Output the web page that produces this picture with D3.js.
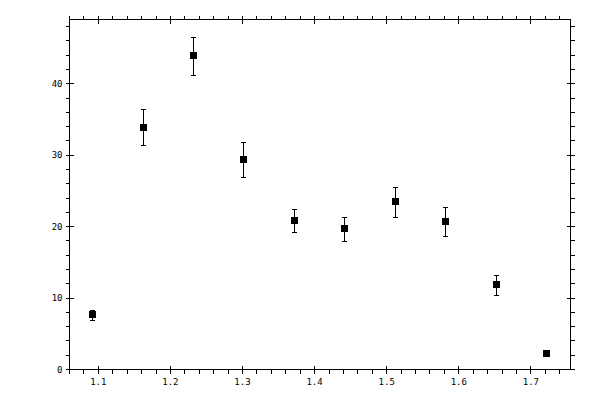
<!DOCTYPE html>
<html>
<head>
<meta charset="utf-8">
<script src="https://cdn.jsdelivr.net/npm/d3@7"></script>
<style>
  body { margin: 0; background: #fff; }
  text { font-family: "DejaVu Sans Mono", monospace; font-size: 9px; fill: #000; }
</style>
</head>
<body>
<div id="chart"></div>
<script>
const width = 600, height = 400;

// data
const xValues = [1.092, 1.162, 1.232, 1.302, 1.372, 1.442, 1.512, 1.582, 1.652, 1.722];
const yValues = [7.7, 33.9, 43.9, 29.4, 20.8, 19.7, 23.5, 20.7, 11.9, 2.3];
const yErrors = [0.7, 2.5, 2.7, 2.4, 1.6, 1.7, 2.1, 2.0, 1.4, 0.4];
const xTicks = [1.1, 1.2, 1.3, 1.4, 1.5, 1.6, 1.7];
const yTicks = [0, 10, 20, 30, 40];
const xMinorTicks = d3.range(1.06, 1.751, 0.02);
const yMinorTicks = d3.range(0, 49, 2);

const xScale = d3.scaleLinear().domain([1.06, 1.755]).range([69.5, 570.5]);
const yScale = d3.scaleLinear().domain([0, 49]).range([369.5, 19.5]);

const svg = d3.select("#chart")
  .append("svg")
    .attr("width", width)
    .attr("height", height);

const frame = svg.append("g")
  .attr("shape-rendering", "crispEdges")
  .attr("stroke", "#000")
  .attr("stroke-width", 1);

// box
frame.append("rect")
  .attr("x", xScale.range()[0])
  .attr("y", yScale.range()[1])
  .attr("width", xScale.range()[1] - xScale.range()[0])
  .attr("height", yScale.range()[0] - yScale.range()[1])
  .attr("fill", "none");

const x0 = xScale.range()[0], x1 = xScale.range()[1];
const yb = yScale.range()[0], yt = yScale.range()[1];

// minor ticks point outward, majors cross the frame
const rx = d => Math.round(xScale(d) - 0.5) + 0.5;
const ry = d => Math.round(yScale(d) - 0.5) + 0.5;

const minorX = xMinorTicks.filter(v => !xTicks.some(t => Math.abs(t - v) < 1e-6));
frame.selectAll("line.xminor-b").data(minorX).join("line")
  .attr("x1", rx).attr("x2", rx)
  .attr("y1", yb).attr("y2", yb + 4);
frame.selectAll("line.xminor-t").data(minorX).join("line")
  .attr("x1", rx).attr("x2", rx)
  .attr("y1", yt).attr("y2", yt - 4);
frame.selectAll("line.xmajor").data(xTicks).join("line")
  .attr("x1", rx).attr("x2", rx)
  .attr("y1", yb - 4).attr("y2", yb + 4);
frame.selectAll("line.xmajor-t").data(xTicks).join("line")
  .attr("x1", rx).attr("x2", rx)
  .attr("y1", yt - 4).attr("y2", yt + 4);

const minorY = yMinorTicks.filter(v => !yTicks.includes(v));
frame.selectAll("line.yminor-l").data(minorY).join("line")
  .attr("x1", x0 - 4).attr("x2", x0).attr("y1", ry).attr("y2", ry);
frame.selectAll("line.yminor-r").data(minorY).join("line")
  .attr("x1", x1).attr("x2", x1 + 4).attr("y1", ry).attr("y2", ry);
frame.selectAll("line.ymajor-l").data(yTicks).join("line")
  .attr("x1", x0 - 4).attr("x2", x0 + 4).attr("y1", ry).attr("y2", ry);
frame.selectAll("line.ymajor-r").data(yTicks).join("line")
  .attr("x1", x1 - 4).attr("x2", x1 + 4).attr("y1", ry).attr("y2", ry);

// tick labels
svg.selectAll("text.xlabel").data(xTicks).join("text")
  .attr("class", "xlabel")
  .attr("x", d => xScale(d))
  .attr("y", yb + 15)
  .attr("text-anchor", "middle")
  .text(d => d3.format(".1f")(d));

svg.selectAll("text.ylabel").data(yTicks).join("text")
  .attr("class", "ylabel")
  .attr("x", x0 - 7)
  .attr("y", d => yScale(d) + 3)
  .attr("text-anchor", "end")
  .text(d => d);

// error bars + square markers
const points = xValues.map((x, i) => ({ x: x, y: yValues[i], err: yErrors[i] }));

const marks = svg.append("g")
  .attr("shape-rendering", "crispEdges")
  .selectAll("g.point")
  .data(points)
  .join("g")
    .attr("class", "point");

const cx = d => Math.round(xScale(d.x) - 0.5);
const cy = d => Math.round(yScale(d.y) - 0.5);

marks.append("line")
  .attr("x1", d => cx(d) + 0.5)
  .attr("x2", d => cx(d) + 0.5)
  .attr("y1", d => yScale(d.y + d.err))
  .attr("y2", d => yScale(d.y - d.err))
  .attr("stroke", "#000");
marks.append("line")
  .attr("x1", d => cx(d) - 2)
  .attr("x2", d => cx(d) + 3)
  .attr("y1", d => Math.round(yScale(d.y + d.err)) + 0.5)
  .attr("y2", d => Math.round(yScale(d.y + d.err)) + 0.5)
  .attr("stroke", "#000");
marks.append("line")
  .attr("x1", d => cx(d) - 2)
  .attr("x2", d => cx(d) + 3)
  .attr("y1", d => Math.round(yScale(d.y - d.err)) + 0.5)
  .attr("y2", d => Math.round(yScale(d.y - d.err)) + 0.5)
  .attr("stroke", "#000");
marks.append("rect")
  .attr("x", d => cx(d) - 3)
  .attr("y", d => cy(d) - 3)
  .attr("width", 7)
  .attr("height", 7)
  .attr("fill", "#000");
</script>
</body>
</html>
